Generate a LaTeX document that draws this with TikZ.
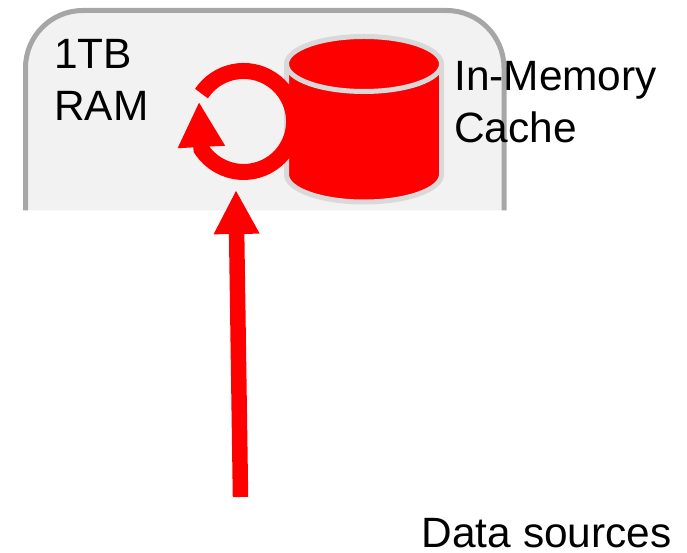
\documentclass[tikz,border=0pt]{standalone}
\usepackage{fontspec}
\setmainfont{Liberation Sans}
\usetikzlibrary{arrows.meta}
\definecolor{ramfill}{HTML}{F2F2F2}
\definecolor{ramline}{HTML}{A6A6A6}
\definecolor{cylline}{HTML}{D9D9D9}

\begin{document}
\begin{tikzpicture}
[x=0.75pt,y=0.75pt
,ram/.style={draw=ramline,fill=ramfill,line width=3.75pt,rounded corners=43pt}
,cyl/.style={draw=cylline,line width=3.75pt}
,cylbody/.style={cyl,fill=red}
,refresh/.style={draw=red,line width=12pt,arrows={-Triangle[length=34pt,width=33pt]}}
,feed/.style={draw=red,line width=11.6pt,arrows={-Triangle[length=33pt,width=32pt]}}
,lbl/.style={inner sep=0pt,font=\fontsize{31.8pt}{39pt}\selectfont}
,lbltwo/.style={lbl,align=left}
]
\useasboundingbox (0,0) rectangle (687,553);
\draw[ram] (25.5,342.5) -- (25.5,542.5) -- (504,542.5) -- (504,342.5);
% cache drum
\draw[cylbody] (286.5,489) -- (286.5,378.5)
  arc[start angle=180,end angle=360,x radius=77.5,y radius=27.5]
  -- (441.5,489)
  arc[start angle=0,end angle=180,x radius=77.5,y radius=27.5] -- cycle;
\draw[cyl] (286.5,489) arc[start angle=180,end angle=360,x radius=77.5,y radius=27.5];
% refresh loop
\coordinate (loopstart) at (201.5,459.4);
\coordinate (loophead) at (199,451.3);
\draw[refresh] (loopstart) arc[start angle=146.5,end angle=-146.5,radius=50.5] -- (loophead);
% ingest
\coordinate (source) at (240.5,56);
\coordinate (ringfoot) at (236,363);
\draw[feed] (source) -- (ringfoot);
\node[lbltwo,anchor=base west] (ramsize) at (54,432.3) {1TB\\RAM};
\node[lbltwo,anchor=base west] (cache) at (454,410.3) {In-Memory\\Cache};
\node[lbl,anchor=base west] (data) at (421.5,5) {Data sources};
\end{tikzpicture}
\end{document}
